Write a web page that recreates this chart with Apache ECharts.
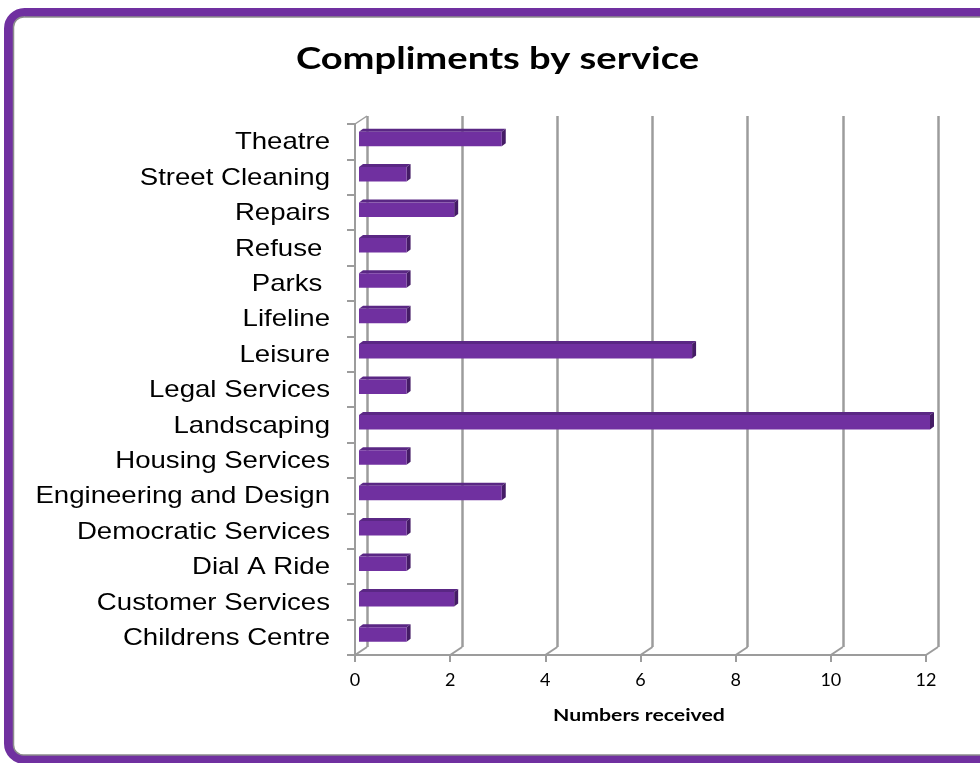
<!DOCTYPE html>
<html>
<head>
<meta charset="utf-8">
<style>
  html, body { margin: 0; padding: 0; background: #fff; }
  #chart { width: 980px; height: 763px; }
</style>
<script src="https://cdn.jsdelivr.net/npm/echarts@6/dist/echarts.min.js"></script>
</head>
<body>
<div id="chart"></div>
<script>
// Compliments received per service
const categories = [
  'Theatre', 'Street Cleaning', 'Repairs', 'Refuse ', 'Parks ', 'Lifeline',
  'Leisure', 'Legal Services', 'Landscaping', 'Housing Services',
  'Engineering and Design', 'Democratic Services', 'Dial A Ride',
  'Customer Services', 'Childrens Centre'
];
const compliments = [3, 1, 2, 1, 1, 1, 7, 1, 12, 1, 3, 1, 1, 2, 1];
const xTicks = [0, 2, 4, 6, 8, 10, 12];

const AXIS_GREY = '#9C9C9C';
const DEPTH_X = 12, DEPTH_Y = 8;      // offset of the back wall
const BAR_DX = 4, BAR_DY = 3;         // bar depth
const LABEL_STRETCH = 1.15;           // wide sans look for the category names

const chart = echarts.init(document.getElementById('chart'), null, { renderer: 'canvas' });

// 3D-looking bar: front face, top face and right side face
function renderBar(params, api) {
  const idx = api.value(0);
  const val = api.value(1);
  const start = api.coord([0, idx]);
  const end = api.coord([val, idx]);
  const cy = start[1];
  const x0 = start[0] + BAR_DX;
  const x1 = end[0] + BAR_DX;
  const yTop = cy - 10, yBot = cy + 4.5;
  return {
    type: 'group',
    children: [
      { type: 'polygon', shape: { points: [[x0, yTop], [x1, yTop], [x1 + BAR_DX, yTop - BAR_DY], [x0 + BAR_DX, yTop - BAR_DY]] },
        style: { fill: '#5A2784' } },
      { type: 'polygon', shape: { points: [[x1, yTop], [x1 + BAR_DX, yTop - BAR_DY], [x1 + BAR_DX, yBot - BAR_DY], [x1, yBot]] },
        style: { fill: '#451C66' } },
      { type: 'rect', shape: { x: x0, y: yTop, width: x1 - x0, height: yBot - yTop },
        style: { fill: '#7030A0' } }
    ]
  };
}

// Category names, right-aligned against the front axis
function renderCategoryLabel(params, api) {
  const idx = api.value(0);
  const p = api.coord([0, idx]);
  return {
    type: 'text',
    x: p[0] - 25,
    y: p[1] + 1,
    scaleX: LABEL_STRETCH,
    style: {
      text: categories[idx],
      align: 'right',
      verticalAlign: 'middle',
      font: '24px "Liberation Sans", Arial, sans-serif',
      fill: '#000'
    }
  };
}

// Floor connectors between the front axis ticks and the back-wall gridlines
function renderFloor(params, api) {
  const v = api.value(0);
  const p = api.coord([v, 0]);
  const cs = params.coordSys;
  const yb = cs.y + cs.height;
  const children = [
    { type: 'line', shape: { x1: p[0], y1: yb, x2: p[0] + DEPTH_X, y2: yb - DEPTH_Y },
      style: { stroke: AXIS_GREY, lineWidth: 2 } }
  ];
  if (v === 0) {
    children.push({ type: 'line', shape: { x1: p[0], y1: cs.y, x2: p[0] + DEPTH_X, y2: cs.y - DEPTH_Y },
      style: { stroke: AXIS_GREY, lineWidth: 1.5 } });
  }
  return { type: 'group', children };
}

const option = {
  animation: false,
  backgroundColor: '#ffffff',
  graphic: [
    { type: 'rect', z: 100, silent: true,
      shape: { x: 8.5, y: 12.5, width: 1000, height: 747, r: 16 },
      style: { fill: 'none', stroke: '#7030A0', lineWidth: 9 } },
    { type: 'rect', z: 101, silent: true,
      shape: { x: 13.5, y: 17, width: 990, height: 738, r: 10 },
      style: { fill: 'none', stroke: '#8C8C8C', lineWidth: 1.5 } },
    { type: 'text', z: 50, silent: true,
      x: 497.5, y: 58.5, scaleX: 1.23,
      style: { text: 'Compliments by service', align: 'center', verticalAlign: 'middle',
               font: 'bold 31px Lato, sans-serif', fill: '#000' } },
    { type: 'text', z: 50, silent: true,
      x: 639, y: 716, scaleX: 1.25,
      style: { text: 'Numbers received', align: 'center', verticalAlign: 'middle',
               font: 'bold 17px Lato, sans-serif', fill: '#000' } }
  ],
  grid: [
    { left: 355, right: 54, top: 124, bottom: 108 },
    { left: 355 + DEPTH_X, right: 54 - DEPTH_X, top: 124 - DEPTH_Y, bottom: 108 + DEPTH_Y }
  ],
  xAxis: [
    {
      gridIndex: 0, type: 'value', min: 0, max: 12, interval: 2,
      axisLine: { show: true, lineStyle: { color: AXIS_GREY, width: 2 } },
      axisTick: { show: true, length: 7, lineStyle: { color: AXIS_GREY, width: 2 } },
      axisLabel: { margin: 16, fontFamily: 'Lato', fontSize: 18, color: '#000' },
      splitLine: { show: false }
    },
    {
      gridIndex: 1, type: 'value', min: 0, max: 12, interval: 2,
      axisLine: { show: false }, axisTick: { show: false }, axisLabel: { show: false },
      splitLine: { show: true, lineStyle: { color: AXIS_GREY, width: 2.5 } }
    }
  ],
  yAxis: [
    {
      gridIndex: 0, type: 'category', data: categories, inverse: true,
      axisLine: { show: true, lineStyle: { color: AXIS_GREY, width: 2 } },
      axisTick: { show: true, length: 8, lineStyle: { color: AXIS_GREY, width: 2 } },
      axisLabel: { show: false },
      splitLine: { show: false }
    },
    {
      gridIndex: 1, type: 'category', data: categories, inverse: true, show: false
    }
  ],
  series: [
    {
      type: 'custom', xAxisIndex: 1, yAxisIndex: 1, z: 1,
      data: [], renderItem: () => null
    },
    {
      type: 'custom', xAxisIndex: 0, yAxisIndex: 0, z: 2,
      renderItem: renderFloor,
      data: xTicks.map(v => [v])
    },
    {
      type: 'custom', xAxisIndex: 0, yAxisIndex: 0, z: 3,
      renderItem: renderBar,
      encode: { x: 1, y: 0 },
      data: compliments.map((v, i) => [i, v])
    },
    {
      type: 'custom', xAxisIndex: 0, yAxisIndex: 0, z: 3,
      renderItem: renderCategoryLabel,
      clip: false,
      data: categories.map((c, i) => [i])
    }
  ]
};

chart.setOption(option);
</script>
</body>
</html>
